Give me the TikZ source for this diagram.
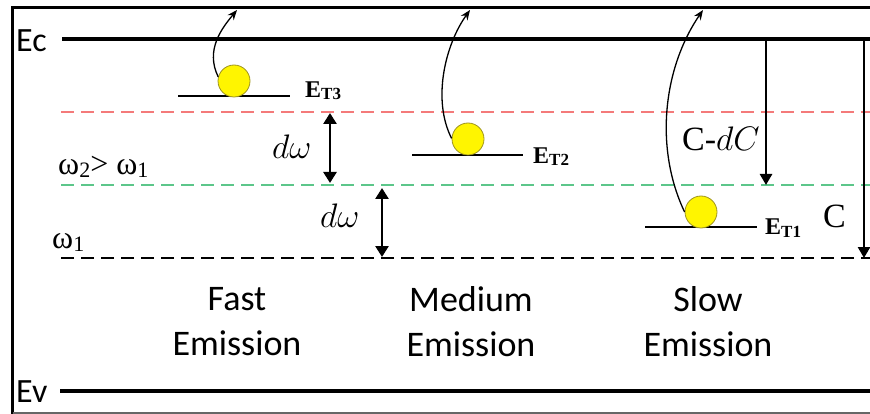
\RequirePackage{fix-cm}
\documentclass[tikz,border=0pt]{standalone}
\usepackage{fontspec}
\setmainfont{Liberation Serif}
\newfontfamily\calfont{Carlito}
\usetikzlibrary{arrows.meta}
\definecolor{redd}{HTML}{F47A7A}
\definecolor{grn}{HTML}{5CC68A}
\definecolor{ball}{HTML}{FFF500}
\definecolor{ballline}{HTML}{9E9420}
\newcommand\etlab[1]{{\fontsize{24}{24}\selectfont\bfseries E\raisebox{-2pt}{\fontsize{17}{17}\selectfont T#1}}}
\newcommand\wsub[1]{\raisebox{-3pt}{\fontsize{22}{22}\selectfont #1}}
\tikzset{
  level/.style={line width=3.2pt},
  frameln/.style={line width=3.6pt},
  trapline/.style={line width=2.6pt},
  dashln/.style={line width=2.4pt, dash pattern=on 13pt off 7pt},
  carrier/.style={circle, fill=ball, draw=ballline, line width=0.8pt, minimum size=32pt, inner sep=0pt},
  emit/.style={line width=1.3pt, -{Stealth[length=10pt,width=8pt]}},
  dwarrow/.style={line width=2.6pt, {Triangle[length=11pt,width=13pt]}-{Triangle[length=11pt,width=13pt]}},
  carrow/.style={line width=2.6pt, -{Triangle[length=11pt,width=12pt]}},
  sanslab/.style={font=\calfont\fontsize{34}{40}\selectfont, inner sep=0pt},
  emlab/.style={font=\calfont\fontsize{36}{45}\selectfont, inner sep=0pt, align=center},
  trlab/.style={inner sep=0pt, anchor=base west},
  bigmath/.style={font=\fontsize{34}{34}\selectfont, inner sep=0pt, anchor=base west},
}
\begin{document}
\begin{tikzpicture}[x=1pt,y=-1pt]
\useasboundingbox (0,0) rectangle (870,414);
% frame
\coordinate (fTL) at (12.5,7.5);
\coordinate (fTR) at (870,7.5);
\coordinate (fBL) at (12.5,412.5);
\coordinate (fBR) at (870,412.5);
\draw[frameln, line cap=rect] (fBL) -- (fTL);
\draw[line width=3pt] (fTL) -- (fTR);
\draw[line width=2pt, gray!80!black] (fBL) -- (fBR);
% band edges
\coordinate (ecL) at (62,39);   \coordinate (ecR) at (870,39);
\coordinate (evL) at (60,391);  \coordinate (evR) at (870,391);
\draw[level] (ecL) -- (ecR);
\draw[level] (evL) -- (evR);
\node[sanslab, anchor=base west] (ec) at (16,52) {Ec};
\node[sanslab, anchor=base west] (ev) at (16,402) {Ev};
% dashed levels
\coordinate (rL) at (61,112); \coordinate (rR) at (870,112);
\coordinate (gL) at (61,185); \coordinate (gR) at (870,185);
\coordinate (kL) at (61,258); \coordinate (kR) at (870,258);
\draw[dashln, redd] (rL) -- (rR);
\draw[dashln, grn] (gL) -- (gR);
\draw[dashln, black] (kL) -- (kR);
\node[trlab, font=\fontsize{32}{32}\selectfont] (w21) at (58,175) {ω\wsub{2}> ω\wsub{1}};
\node[trlab, font=\fontsize{32}{32}\selectfont] (w1) at (52,248) {ω\wsub{1}};
% trap levels
\coordinate (t3L) at (178,96);  \coordinate (t3R) at (290,96);
\coordinate (t2L) at (412,155); \coordinate (t2R) at (523,155);
\coordinate (t1L) at (645,227); \coordinate (t1R) at (757,227);
\draw[trapline] (t3L) -- (t3R);
\draw[trapline] (t2L) -- (t2R);
\draw[trapline] (t1L) -- (t1R);
\node[carrier] (b3) at (234,81) {};
\node[carrier] (b2) at (468,139) {};
\node[carrier] (b1) at (701,212) {};
\node[trlab] (et3) at (305,98) {\etlab{3}};
\node[trlab] (et2) at (533,164) {\etlab{2}};
\node[trlab] (et1) at (765,235) {\etlab{1}};
% emission arrows
\coordinate (e3) at (237,10);
\coordinate (e2) at (470,10);
\coordinate (e1) at (703,10);
\draw[emit] (b3.165) .. controls (205,50) and (222,28) .. (e3);
\draw[emit] (b2.178) .. controls (432,100) and (445,45) .. (e2);
\draw[emit] (b1.180) .. controls (655,150) and (662,70) .. (e1);
% d omega arrows
\coordinate (dw1t) at (330,113); \coordinate (dw1b) at (330,183);
\coordinate (dw2t) at (382,188); \coordinate (dw2b) at (382,257);
\draw[dwarrow] (dw1t) -- (dw1b);
\draw[dwarrow] (dw2t) -- (dw2b);
\node[bigmath] (dwl1) at (272,159) {$d\omega$};
\node[bigmath] (dwl2) at (320,228) {$d\omega$};
% C arrows
\coordinate (cdcT) at (766,39); \coordinate (cdcB) at (766,185);
\coordinate (cT) at (864,39);   \coordinate (cB) at (864,258);
\draw[carrow] (cdcT) -- (cdcB);
\draw[carrow] (cT) -- (cB);
\node[bigmath] (cdcl) at (682,151) {C-$dC$};
\node[bigmath] (cl) at (823,228) {C};
% emission labels
\node[emlab] (fast) at (237,322) {Fast\\Emission};
\node[emlab] (med) at (471,322) {Medium\\Emission};
\node[emlab] (slow) at (708,322) {Slow\\Emission};
\end{tikzpicture}
\end{document}
